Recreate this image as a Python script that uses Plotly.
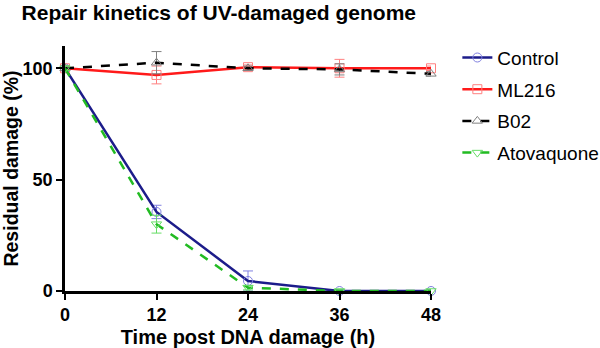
import plotly.graph_objects as go

time_h = [0, 12, 24, 36, 48]
control = [100, 35.5, 4.5, 0, 0]
control_err = [1, 3, 4.5, 0.5, 0.5]
ml216 = [100, 97, 100.5, 100, 100]
ml216_err = [1, 4, 1, 4, 1]
b02 = [100, 102.5, 100, 99.5, 97.5]
b02_err = [1, 5, 1, 2.5, 1]
atovaquone = [100, 30, 1.5, 0, 0]
atovaquone_err = [1, 4, 1, 0.5, 0.5]

x_ticks = [0, 12, 24, 36, 48]
y_ticks = [0, 50, 100]

FONT = "Liberation Sans, Arial, sans-serif"

series = [
    ("Control", control, control_err, "#1c1c8a", "#8080e0", "circle-open", "solid"),
    ("ML216", ml216, ml216_err, "#ff1a1a", "#ff8080", "square-open", "solid"),
    ("B02", b02, b02_err, "#000000", "#808080", "triangle-up-open", "dash"),
    ("Atovaquone", atovaquone, atovaquone_err, "#22bb22", "#66dd66", "triangle-down-open", "dash"),
]

fig = go.Figure()
for name, vals, err, lc, mc, sym, dash in series:
    fig.add_trace(go.Scatter(
        x=time_h, y=vals, name=name, mode="lines+markers",
        line=dict(color=lc, width=2.5, dash=dash),
        marker=dict(symbol=sym, size=9, color=mc, line=dict(width=1, color=mc)),
        error_y=dict(type="data", array=err, visible=True, color=mc, thickness=1, width=5),
        cliponaxis=False, legendgroup=name,
    ))

fig.update_layout(
    width=600, height=348,
    margin=dict(l=65, r=169, t=46, b=57, autoexpand=False),
    paper_bgcolor="white", plot_bgcolor="white",
    font=dict(family=FONT, color="black"),
    title=dict(text="<b>Repair kinetics of UV-damaged genome</b>", x=0.036, xanchor="left",
               y=0.965, yanchor="middle", font=dict(size=21, family=FONT, color="black"),
               automargin=False),
    legend=dict(x=1.072, xanchor="left", y=1.03, yanchor="top", font=dict(size=19, family=FONT),
                tracegroupgap=4, traceorder="grouped", bgcolor="rgba(0,0,0,0)"),
    showlegend=True,
)
fig.update_xaxes(
    range=[0, 48], tickvals=x_ticks, ticktext=[f"<b>{v}</b>" for v in x_ticks],
    showline=True, linecolor="black", linewidth=2.5, ticks="outside", ticklen=6,
    tickwidth=2, tickcolor="black", showgrid=False, zeroline=False, automargin=False,
    tickfont=dict(size=18, family=FONT),
    title=dict(text="<b>Time post DNA damage (h)</b>", font=dict(size=20, family=FONT), standoff=6),
)
fig.update_yaxes(
    range=[0, 110], tickvals=y_ticks, ticktext=[f"<b>{v}</b>" for v in y_ticks],
    showline=True, linecolor="black", linewidth=2.5, ticks="outside", ticklen=6,
    tickwidth=2, tickcolor="black", showgrid=False, zeroline=False, automargin=False,
    tickfont=dict(size=18, family=FONT),
    title=dict(text="<b>Residual damage (%)</b>", font=dict(size=19.5, family=FONT), standoff=4),
)

fig.write_html("out.html", config={"displayModeBar": False},
               post_script="document.body.style.margin='0';document.body.style.overflow='hidden';")
